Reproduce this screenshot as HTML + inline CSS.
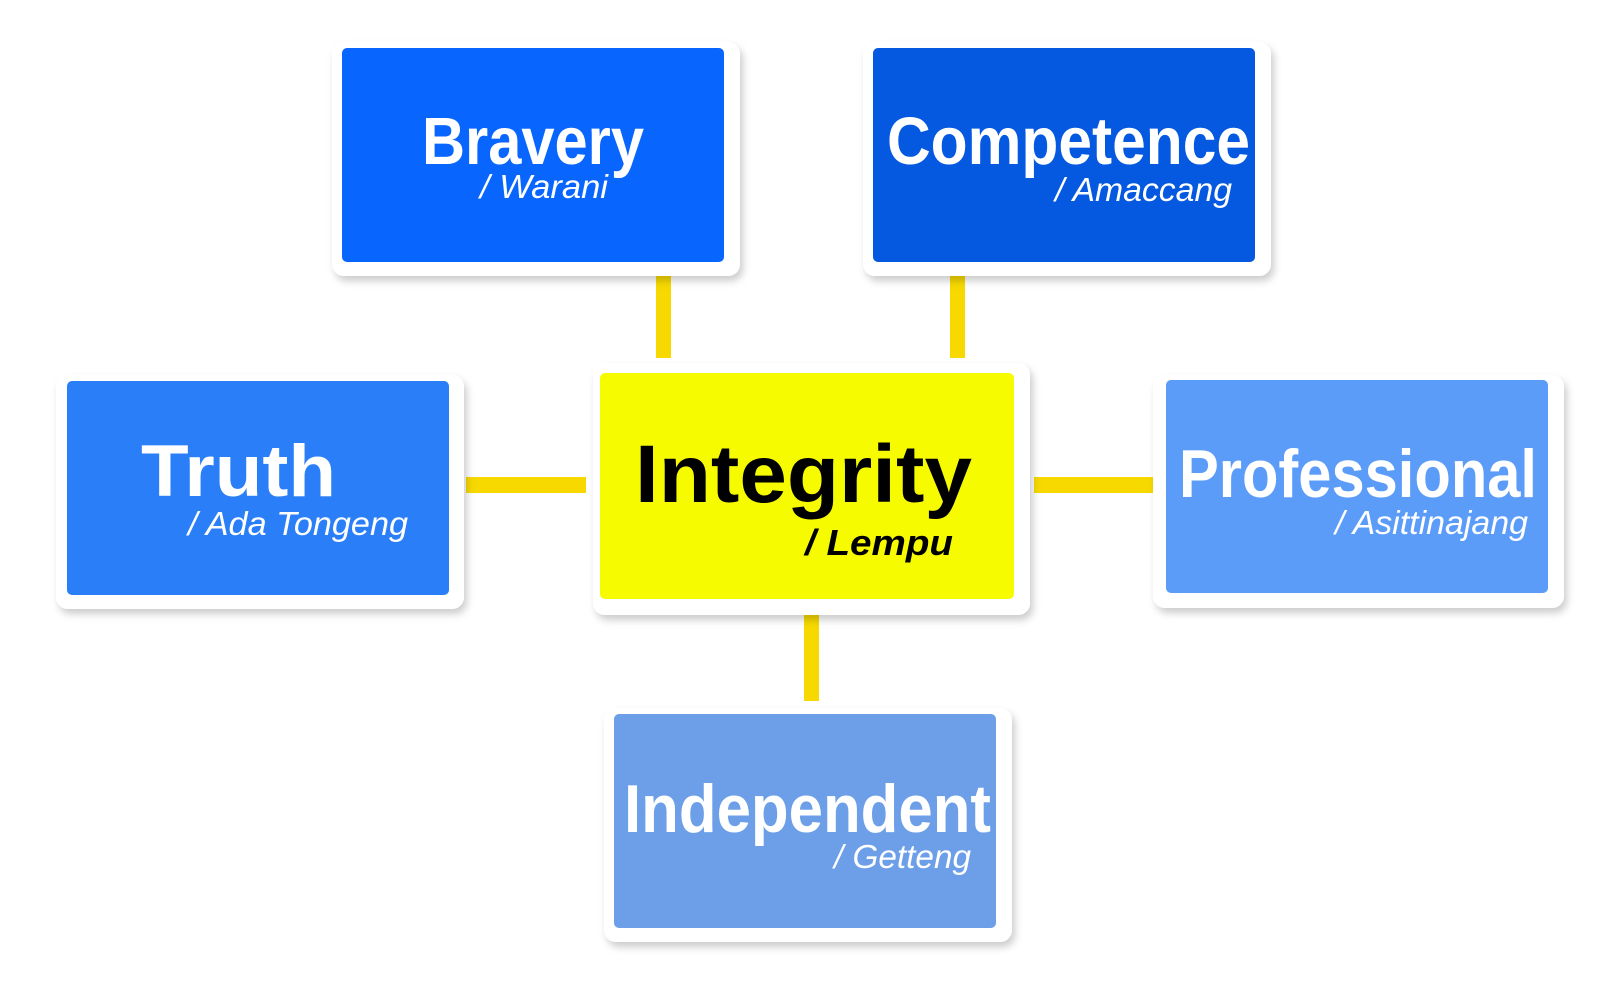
<!DOCTYPE html>
<html><head><meta charset="utf-8"><style>html,body{margin:0;padding:0;background:#fff}svg{display:block}</style></head>
<body>
<svg width="1600" height="985" viewBox="0 0 1600 985" xmlns="http://www.w3.org/2000/svg" font-family="Liberation Sans, Arial, sans-serif">
<defs>
<filter id="sh" x="-10%" y="-10%" width="130%" height="130%">
<feDropShadow dx="3" dy="5" stdDeviation="4" flood-color="#000" flood-opacity="0.2"/>
</filter>
</defs>
<rect width="1600" height="985" fill="#fff"/>
<g fill="#f7d900">
<rect x="656" y="276" width="15" height="82"/>
<rect x="950" y="276" width="15" height="82"/>
<rect x="466" y="477" width="120" height="16"/>
<rect x="1034" y="477" width="122" height="16"/>
<rect x="804" y="615" width="15" height="86"/>
</g>
<g fill="#fff" filter="url(#sh)">
<rect x="332" y="42" width="408" height="234" rx="12"/>
<rect x="863" y="42" width="408" height="234" rx="12"/>
<rect x="56" y="375" width="408" height="234" rx="12"/>
<rect x="593" y="363" width="437" height="252" rx="12"/>
<rect x="1153" y="375" width="411" height="233" rx="12"/>
<rect x="604" y="708" width="408" height="234" rx="12"/>
</g>
<rect x="342" y="48" width="382" height="214" rx="5" fill="#0866fe"/>
<rect x="873" y="48" width="382" height="214" rx="5" fill="#0558e0"/>
<rect x="67" y="381" width="382" height="214" rx="5" fill="#2a7ff8"/>
<rect x="600" y="373" width="414" height="226" rx="5" fill="#f7fb00"/>
<rect x="1166" y="380" width="382" height="213" rx="5" fill="#5c9cf9"/>
<rect x="614" y="714" width="382" height="214" rx="5" fill="#6c9fe8"/>
<g fill="#fff" font-weight="bold">
<text x="422" y="164" font-size="67" textLength="222" lengthAdjust="spacingAndGlyphs">Bravery</text>
<text x="887" y="164" font-size="67" textLength="363" lengthAdjust="spacingAndGlyphs">Competence</text>
<text x="141" y="496" font-size="73" textLength="195" lengthAdjust="spacingAndGlyphs">Truth</text>
<text x="1179" y="497" font-size="68" textLength="358" lengthAdjust="spacingAndGlyphs">Professional</text>
<text x="624" y="832" font-size="68" textLength="367" lengthAdjust="spacingAndGlyphs">Independent</text>
</g>
<g fill="#fff" font-style="italic" font-size="33">
<text x="480" y="198" textLength="128" lengthAdjust="spacingAndGlyphs">/ Warani</text>
<text x="1055" y="201" textLength="177" lengthAdjust="spacingAndGlyphs">/ Amaccang</text>
<text x="188" y="535" textLength="220" lengthAdjust="spacingAndGlyphs">/ Ada Tongeng</text>
<text x="1335" y="534" textLength="193" lengthAdjust="spacingAndGlyphs">/ Asittinajang</text>
<text x="834" y="868" textLength="137" lengthAdjust="spacingAndGlyphs">/ Getteng</text>
</g>
<text x="635" y="502" font-size="82" font-weight="bold" fill="#000" textLength="337" lengthAdjust="spacingAndGlyphs">Integrity</text>
<text x="805" y="555" font-size="36" font-weight="bold" font-style="italic" fill="#000" textLength="148" lengthAdjust="spacingAndGlyphs">/ Lempu</text>
</svg>
</body></html>
